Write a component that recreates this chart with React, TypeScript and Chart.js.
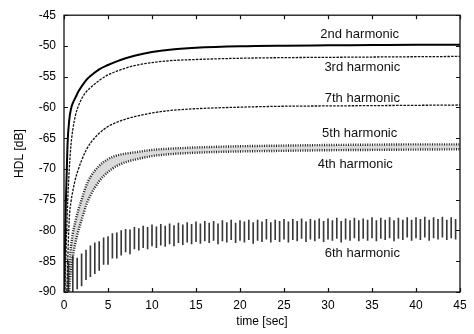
import React, { useEffect, useRef } from "react";
import { Chart, registerables } from "chart.js";
Chart.register(...registerables);

const xTicks = [0, 5, 10, 15, 20, 25, 30, 35, 40, 45];
const yTicks = [-90, -85, -80, -75, -70, -65, -60, -55, -50, -45];

const T = [0, 0.2, 0.4, 0.6, 0.8, 1, 1.3, 1.6, 2, 2.5, 3, 4, 5, 6, 7, 8, 10, 12, 15, 20, 25, 30, 35, 40, 45];
const h2 = [-92, -76, -66, -62, -60.2, -59.3, -58.4, -57.5, -56.6, -55.6, -54.9, -53.8, -53.1, -52.5, -52.0, -51.6, -51.0, -50.6, -50.3, -50.05, -49.95, -49.9, -49.85, -49.8, -49.8];
const h3 = [-95, -85, -76, -70, -66, -63.6, -61.3, -59.9, -58.6, -57.5, -56.8, -55.6, -54.7, -54.1, -53.6, -53.2, -52.7, -52.4, -52.2, -52.0, -51.9, -51.85, -51.8, -51.75, -51.7];
const h7 = [-100, -96, -86, -78, -75.3, -73.6, -71.6, -70.2, -68.6, -67, -65.8, -64.2, -63.1, -62.4, -61.9, -61.5, -60.9, -60.5, -60.2, -59.95, -59.8, -59.75, -59.7, -59.65, -59.6];
const h5 = [-100, -97, -90, -85.5, -82.5, -80.5, -78.5, -76.8, -75, -72.8, -71.3, -69.5, -68.4, -67.8, -67.5, -67.3, -66.9, -66.7, -66.5, -66.3, -66.2, -66.1, -66.05, -66.0, -66.0];
const h4 = [-100, -99, -94, -89.5, -86.5, -84.3, -82, -80.2, -78.3, -76, -74.3, -72, -70.5, -69.5, -68.9, -68.5, -67.9, -67.6, -67.35, -67.15, -67.05, -66.95, -66.9, -66.85, -66.8];

// 6th harmonic: oscillation extent (low / high) sampled every 0.5 s
const t6 = [0.5, 1, 1.5, 2, 2.5, 3, 3.5, 4, 4.5, 5, 5.5, 6, 6.5, 7, 7.5, 8, 8.5, 9, 9.5, 10, 10.5, 11, 11.5, 12, 12.5, 13, 13.5, 14, 14.5, 15, 15.5, 16, 16.5, 17, 17.5, 18, 18.5, 19, 19.5, 20, 20.5, 21, 21.5, 22, 22.5, 23, 23.5, 24, 24.5, 25, 25.5, 26, 26.5, 27, 27.5, 28, 28.5, 29, 29.5, 30, 30.5, 31, 31.5, 32, 32.5, 33, 33.5, 34, 34.5, 35, 35.5, 36, 36.5, 37, 37.5, 38, 38.5, 39, 39.5, 40, 40.5, 41, 41.5, 42, 42.5, 43, 43.5, 44, 44.5];
const lo6 = [-90, -90, -89.5, -89, -88, -87.5, -87, -86.5, -85.5, -85.5, -84.5, -84.5, -84, -83.5, -83.8, -83, -83.2, -82.8, -83, -82.5, -82.8, -82.4, -82.6, -82.2, -82.5, -82, -82.3, -81.9, -82.2, -81.8, -82.1, -81.7, -82, -81.6, -82.2, -81.7, -81.9, -81.5, -82, -81.6, -81.9, -81.5, -82.1, -81.6, -81.8, -81.4, -81.9, -81.5, -81.8, -81.4, -81.9, -81.5, -81.7, -81.3, -81.8, -81.4, -81.7, -81.3, -81.8, -81.4, -81.6, -81.3, -81.9, -81.4, -81.6, -81.2, -81.7, -81.3, -81.6, -81.2, -81.7, -81.3, -81.5, -81.2, -81.7, -81.3, -81.5, -81.1, -81.6, -81.2, -81.5, -81.1, -81.6, -81.2, -81.4, -81.1, -81.5, -81.2, -81.4];
const hi6 = [-85, -84.2, -84.5, -83.8, -83.2, -82.5, -82, -81.8, -81.2, -81, -80.5, -80.4, -80, -79.8, -79.9, -79.5, -79.7, -79.3, -79.5, -79.1, -79.4, -79, -79.3, -78.9, -79.2, -78.8, -79.1, -78.7, -79, -78.6, -78.9, -78.5, -78.8, -78.5, -78.9, -78.4, -78.7, -78.3, -78.8, -78.4, -78.6, -78.3, -78.7, -78.3, -78.6, -78.2, -78.7, -78.3, -78.5, -78.2, -78.6, -78.2, -78.5, -78.1, -78.6, -78.2, -78.4, -78.1, -78.5, -78.1, -78.4, -78.0, -78.5, -78.1, -78.4, -78.0, -78.4, -78.1, -78.3, -77.9, -78.4, -78.0, -78.3, -77.9, -78.4, -78.0, -78.3, -77.9, -78.3, -77.9, -78.2, -77.8, -78.3, -77.9, -78.2, -77.8, -78.3, -77.9, -78.2];

const labelTexts = ["2nd harmonic", "3rd harmonic", "7th harmonic", "5th harmonic", "4th harmonic", "6th harmonic"];
const labelT = [33.6, 33.9, 33.9, 33.6, 33.1, 33.9];
const labelV = [-48.2, -53.5, -58.5, -64.3, -69.2, -83.7];

const FONT = "'Liberation Sans', Arial, sans-serif";

const pts = (xs: number[], ys: number[]) => xs.map((x, i) => ({ x, y: ys[i] }));

const framePlugin = {
  id: "frame",
  afterDatasetsDraw(chart: any) {
    const { ctx, chartArea: a, scales } = chart;
    const xs = scales.x, ys = scales.y;
    ctx.save();
    ctx.strokeStyle = "#111";
    ctx.lineWidth = 1.3;
    ctx.strokeRect(a.left, a.top, a.right - a.left, a.bottom - a.top);
    ctx.lineWidth = 1.2;
    const L = 4;
    ctx.beginPath();
    xTicks.forEach((v) => {
      const px = Math.round(xs.getPixelForValue(v)) + 0.5;
      ctx.moveTo(px, a.bottom); ctx.lineTo(px, a.bottom - L);
      ctx.moveTo(px, a.top); ctx.lineTo(px, a.top + L);
    });
    yTicks.forEach((v) => {
      const py = Math.round(ys.getPixelForValue(v)) + 0.5;
      ctx.moveTo(a.left, py); ctx.lineTo(a.left + L, py);
      ctx.moveTo(a.right, py); ctx.lineTo(a.right - L, py);
    });
    ctx.stroke();
    ctx.fillStyle = "#111";
    ctx.font = `13px ${FONT}`;
    ctx.textAlign = "center";
    ctx.textBaseline = "middle";
    labelTexts.forEach((s, i) => {
      ctx.fillText(s, xs.getPixelForValue(labelT[i]), ys.getPixelForValue(labelV[i]));
    });
    ctx.restore();
  },
};

export default function App() {
  const ref = useRef<HTMLCanvasElement>(null);
  useEffect(() => {
    document.body.style.margin = "0";
    const chart = new Chart(ref.current!, {
      type: "line",
      data: {
        datasets: [
          {
            type: "bar",
            data: t6.map((x, i) => ({ x, y: [lo6[i], hi6[i]] })) as any,
            backgroundColor: "#3a3a3a",
            barThickness: 1,
            order: 5,
          } as any,
          { data: pts(T, h4), borderColor: "#222", borderWidth: 2.4, borderDash: [1, 1.4], cubicInterpolationMode: "monotone", fill: false },
          { data: pts(T, h5), borderColor: "#222", borderWidth: 2.4, borderDash: [1, 1.4], cubicInterpolationMode: "monotone", fill: "-1", backgroundColor: "rgba(0,0,0,0.14)" },
          { data: pts(T, h7), borderColor: "#111", borderWidth: 1.3, borderDash: [2.5, 1.2], cubicInterpolationMode: "monotone" },
          { data: pts(T, h3), borderColor: "#111", borderWidth: 1.3, borderDash: [2.5, 1.2], cubicInterpolationMode: "monotone" },
          { data: pts(T, h2), borderColor: "#000", borderWidth: 2, cubicInterpolationMode: "monotone" },
        ],
      },
      options: {
        animation: false,
        responsive: false,
        maintainAspectRatio: false,
        layout: { padding: { top: 13, right: 14, bottom: 0, left: 0 } },
        elements: { point: { radius: 0 } },
        plugins: { legend: { display: false }, tooltip: { enabled: false } },
        scales: {
          x: {
            type: "linear",
            min: 0,
            max: 45,
            offset: false,
            grid: { display: false, drawTicks: false, tickLength: 0 },
            border: { display: false },
            afterBuildTicks: (s: any) => { s.ticks = xTicks.map((v) => ({ value: v })); },
            afterFit: (s: any) => { s.height = 42; },
            ticks: { color: "#000", font: { family: FONT, size: 12 }, padding: 6, maxRotation: 0, autoSkip: false },
            title: { display: true, text: "time [sec]", color: "#000", font: { family: FONT, size: 12 }, padding: { top: 0, bottom: 5 } },
          },
          y: {
            min: -90,
            max: -45,
            grid: { display: false, drawTicks: false, tickLength: 0 },
            border: { display: false },
            afterBuildTicks: (s: any) => { s.ticks = yTicks.map((v) => ({ value: v })); },
            afterFit: (s: any) => { s.width = 64; },
            ticks: { color: "#000", font: { family: FONT, size: 12 }, padding: 8, autoSkip: false },
            title: { display: true, text: "HDL [dB]", color: "#000", font: { family: FONT, size: 12 }, padding: { top: 12, bottom: 0 } },
          },
        },
      },
      plugins: [framePlugin],
    });
    return () => chart.destroy();
  }, []);
  return <canvas ref={ref} width={474} height={334} style={{ display: "block" }} />;
}
